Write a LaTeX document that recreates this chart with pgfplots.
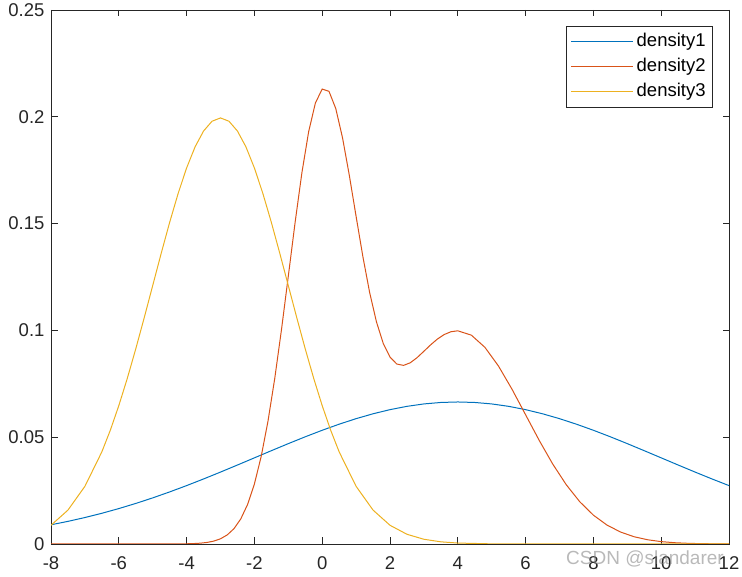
\documentclass[border=0pt]{standalone}
\usepackage{fontspec}
\setmainfont{Liberation Sans}
\usepackage{pgfplots}
\pgfplotsset{compat=1.18}
\definecolor{mblue}{RGB}{0,114,189}
\definecolor{morange}{RGB}{217,83,25}
\definecolor{myellow}{RGB}{237,177,32}
\definecolor{axgray}{RGB}{38,38,38}
\begin{document}
\begin{tikzpicture}[x=1pt,y=1pt]
\useasboundingbox (0,0) rectangle (742,577);
\begin{axis}[
  at={(51pt,33pt)}, anchor=south west,
  width=678pt, height=534pt, scale only axis,
  xmin=-8, xmax=12, ymin=0, ymax=0.25,
  xtick={-8,-6,-4,-2,0,2,4,6,8,10,12},
  xticklabels={-8,-6,-4,-2,0,2,4,6,8,10,12},
  ytick={0,0.05,0.1,0.15,0.2,0.25},
  yticklabels={0,0.05,0.1,0.15,0.2,0.25},
  scaled y ticks=false,
  tick align=inside, major tick length=6.5pt,
  axis line style={axgray, line width=0.8pt},
  tick style={axgray, line width=0.8pt},
  ticklabel style={font=\fontsize{18.5}{20}\selectfont, text=axgray},
  xticklabel style={yshift=-9pt},
  yticklabel style={xshift=-3pt},
  legend style={at={(1,1)}, anchor=north east, xshift=-16pt, yshift=-16pt,
    draw=axgray, line width=0.8pt, inner xsep=4pt, inner ysep=3pt, row sep=0pt,
    font=\fontsize{18.5}{20}\selectfont,
    nodes={text height=13pt, text depth=4pt, inner ysep=4pt, inner xsep=3pt}},
  legend cell align=left,
  legend image code/.code={\draw[#1] (0pt,0pt) -- (62pt,0pt);},
]
\addplot[mblue, line width=1pt] coordinates {
(-8,0.008998) (-7.5,0.010594) (-7,0.012385) (-6.5,0.014380) (-6,0.016579)
(-5.5,0.018984) (-5,0.021586) (-4.5,0.024376) (-4,0.027335) (-3.5,0.030442)
(-3,0.033666) (-2.5,0.036975) (-2,0.040328) (-1.5,0.043681) (-1,0.046985)
(-0.5,0.050190) (0,0.053241) (0.5,0.056088) (1,0.058677) (1.5,0.060962)
(2,0.062897) (2.5,0.064444) (3,0.065573) (3.5,0.066260) (4,0.066490)
(4.5,0.066260) (5,0.065573) (5.5,0.064444) (6,0.062897) (6.5,0.060962)
(7,0.058677) (7.5,0.056088) (8,0.053241) (8.5,0.050190) (9,0.046985)
(9.5,0.043681) (10,0.040328) (10.5,0.036975) (11,0.033666) (11.5,0.030442)
(12,0.027335)
};
\addlegendentry{density1}
\addplot[morange, line width=1pt] coordinates {
(-8,0) (-5,0.000005) (-4.4,0.000027) (-4.0,0.000100) (-3.8,0.000196)
(-3.6,0.000379) (-3.4,0.000722) (-3.2,0.001345) (-3.0,0.002434) (-2.8,0.004266)
(-2.6,0.007222) (-2.4,0.011793) (-2.2,0.018554) (-2.0,0.028104) (-1.8,0.040963)
(-1.6,0.057439) (-1.4,0.077469) (-1.2,0.100489) (-1.0,0.125367) (-0.8,0.150445)
(-0.6,0.173694) (-0.4,0.193004) (-0.2,0.206517) (0.0,0.212969) (0.2,0.211925)
(0.4,0.203873) (0.6,0.190124) (0.8,0.172576) (1.0,0.153365) (1.2,0.134525)
(1.4,0.117706) (1.6,0.104007) (1.8,0.093938) (2.0,0.087489) (2.2,0.084259)
(2.4,0.083620) (2.6,0.084855) (2.8,0.087265) (3.0,0.090233) (3.2,0.093260)
(3.4,0.095963) (3.6,0.098067) (3.8,0.099385) (4.0,0.099803) (4.4,0.097774)
(4.8,0.092069) (5.2,0.083307) (5.6,0.072423) (6.0,0.060493) (6.4,0.048547)
(6.8,0.037432) (7.2,0.027730) (7.6,0.019738) (8.0,0.013498) (8.4,0.008869)
(8.8,0.005599) (9.2,0.003396) (9.6,0.001979) (10.0,0.001108) (10.4,0.000596)
(10.8,0.000308) (11.2,0.000153) (11.6,0.000073) (12.0,0.000033)
};
\addlegendentry{density2}
\addplot[myellow, line width=1pt] coordinates {
(-8,0.008764) (-7.5,0.015870) (-7,0.026996) (-6.5,0.043139) (-6.25,0.053269)
(-6,0.064759) (-5.75,0.077506) (-5.5,0.091325) (-5.25,0.105938) (-5,0.120985)
(-4.75,0.136027) (-4.5,0.150569) (-4.25,0.164080) (-4,0.176033) (-3.75,0.185927)
(-3.5,0.193334) (-3.25,0.197919) (-3,0.199471) (-2.75,0.197919) (-2.5,0.193334)
(-2.25,0.185927) (-2,0.176033) (-1.75,0.164080) (-1.5,0.150569) (-1.25,0.136027)
(-1,0.120985) (-0.75,0.105938) (-0.5,0.091325) (-0.25,0.077506) (0,0.064759)
(0.25,0.053269) (0.5,0.043139) (1,0.026996) (1.5,0.015870) (2,0.008764)
(2.5,0.004547) (3,0.002216) (3.5,0.001015) (4,0.000436) (5,0.000067)
(6,0.000008) (7,0) (12,0)
};
\addlegendentry{density3}
\end{axis}
\node[font=\fontsize{19}{20}\selectfont, text=gray, text opacity=0.55, inner sep=0pt] at (645,18) {CSDN @slandarer};
\end{tikzpicture}
\end{document}
